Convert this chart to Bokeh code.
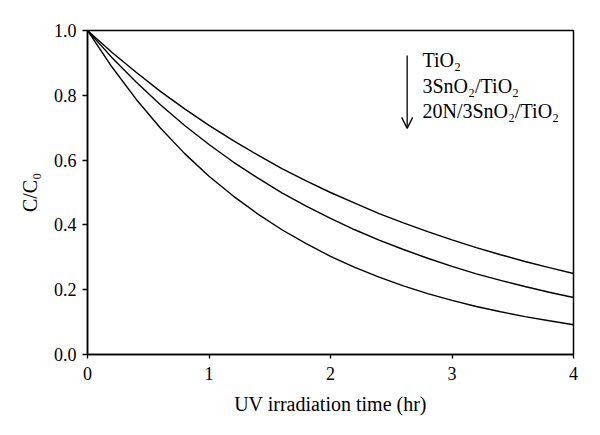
from bokeh.plotting import figure
from bokeh.models import Range1d, NumeralTickFormatter, FixedTicker, Arrow, OpenHead, Label
from bokeh.embed import file_html
from bokeh.resources import INLINE

# Data (C/C0 vs UV irradiation time in hr)
time_hr = [0.0, 0.2, 0.4, 0.6, 0.8, 1.0, 1.2, 1.4, 1.6, 1.8, 2.0,
           2.2, 2.4, 2.6, 2.8, 3.0, 3.2, 3.4, 3.6, 3.8, 4.0]
tio2 = [1.000, 0.933, 0.871, 0.812, 0.758, 0.707, 0.660, 0.616, 0.574, 0.536, 0.500,
        0.467, 0.435, 0.406, 0.379, 0.354, 0.330, 0.308, 0.287, 0.268, 0.250]
sno2_tio2 = [1.000, 0.917, 0.841, 0.771, 0.707, 0.648, 0.594, 0.545, 0.499, 0.458, 0.420,
             0.385, 0.353, 0.324, 0.297, 0.272, 0.249, 0.229, 0.210, 0.192, 0.176]
n_sno2_tio2 = [1.000, 0.888, 0.788, 0.699, 0.620, 0.550, 0.489, 0.434, 0.385, 0.342, 0.303,
               0.269, 0.239, 0.212, 0.188, 0.167, 0.148, 0.132, 0.117, 0.104, 0.092]
series_names = ["TiO₂", "3SnO₂/TiO₂", "20N/3SnO₂/TiO₂"]
x_ticks = [0, 1, 2, 3, 4]
y_ticks = [0.0, 0.2, 0.4, 0.6, 0.8, 1.0]

FONT = "Liberation Serif"

p = figure(width=600, height=435, output_backend="svg", toolbar_location=None,
           x_range=Range1d(0, 4), y_range=Range1d(0, 1),
           frame_width=486, frame_height=324,
           min_border_left=87, min_border_top=30, min_border_right=27, min_border_bottom=81)
p.grid.visible = False
p.outline_line_color = "black"
p.outline_line_width = 1.5
p.outline_line_alpha = 1.0
p.background_fill_color = "white"
p.border_fill_color = "white"

for s in [tio2, sno2_tio2, n_sno2_tio2]:
    p.line(time_hr, s, line_color="black", line_width=1.4)

p.xaxis.ticker = FixedTicker(ticks=x_ticks)
p.yaxis.ticker = FixedTicker(ticks=y_ticks)
p.yaxis.formatter = NumeralTickFormatter(format="0.0")
for ax in [p.xaxis[0], p.yaxis[0]]:
    ax.axis_line_color = "black"
    ax.axis_line_width = 1.5
    ax.major_tick_line_color = "black"
    ax.major_tick_line_width = 1.3
    ax.major_tick_in = 0
    ax.minor_tick_line_color = None
    ax.major_label_text_font = FONT
    ax.major_label_text_font_size = "18px"
    ax.major_label_text_color = "black"
    ax.axis_label_text_font = FONT
    ax.axis_label_text_font_size = "20px"
    ax.axis_label_text_font_style = "normal"
    ax.axis_label_text_color = "black"
p.xaxis.major_tick_out = 4
p.yaxis.major_tick_out = 5
p.xaxis.major_label_standoff = 8
p.yaxis.major_label_standoff = 6
p.xaxis.axis_label = "UV irradiation time (hr)"
p.yaxis.axis_label = "C/C₀"
p.xaxis.axis_label_standoff = 10
p.yaxis.axis_label_standoff = 10

# Annotation arrow and labels
p.add_layout(Arrow(end=OpenHead(size=11, line_width=1.3, line_color="black"),
                   x_start=2.631, y_start=0.923, x_end=2.631, y_end=0.698,
                   line_color="black", line_width=1.3))
label_y = [0.909, 0.830, 0.753]
for name, yy in zip(series_names, label_y):
    p.add_layout(Label(x=2.757, y=yy, text=name, text_font=FONT, text_font_size="20px",
                       text_baseline="middle", text_color="black"))

open("out.html", "w").write(file_html(p, INLINE))
